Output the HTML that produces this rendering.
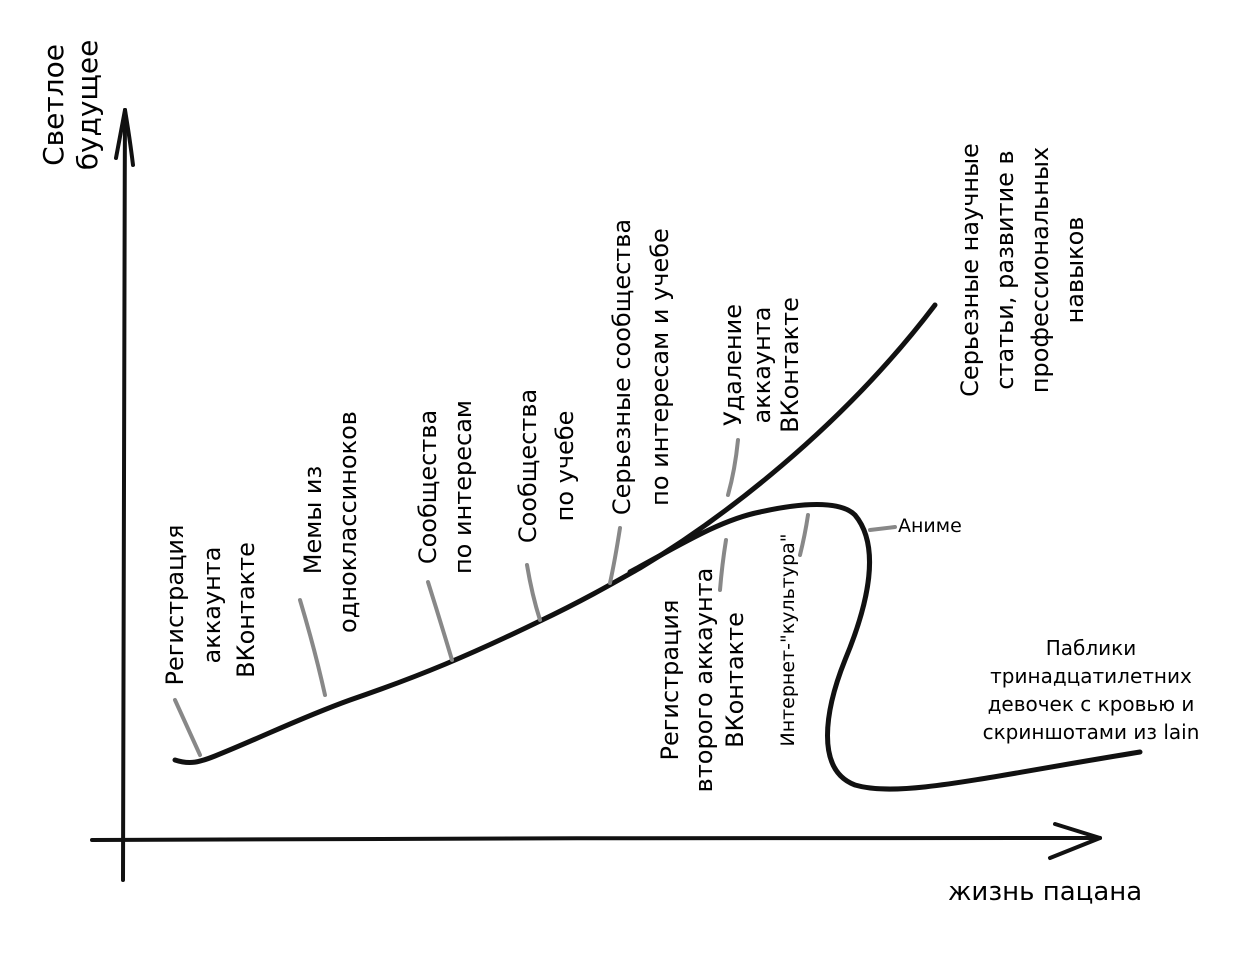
<!DOCTYPE html>
<html><head><meta charset="utf-8"><style>
html,body{margin:0;padding:0;background:#fff;}
svg{display:block}
text{font-family:"DejaVu Sans","Liberation Sans",sans-serif;fill:#000}
</style></head><body>
<svg width="1244" height="966" viewBox="0 0 1244 966" xmlns="http://www.w3.org/2000/svg">
<g fill="none" stroke="#111" stroke-width="4" stroke-linecap="round" stroke-linejoin="round">
  <path d="M123 880 C122 700 124 400 125 110"/>
  <path d="M125 110 L116 158"/>
  <path d="M125 110 Q130 140 133 165"/>
  <path d="M92 840 C400 838 800 838 1100 838"/>
  <path d="M1100 838 L1055 824"/>
  <path d="M1100 838 L1050 858"/>
</g>
<g fill="none" stroke="#111" stroke-width="5" stroke-linecap="round">
  <path d="M175 760 C190 765 200 762 215 756 C260 738 300 718 350 700 C420 676 470 655 540 621 C580 602 610 585 640 568 C720 520 840 430 935 305"/>
  <path d="M630 572 C680 545 720 520 760 512 C800 503 840 500 855 515 C880 545 870 600 845 660 C825 710 815 770 855 785 C900 798 980 778 1140 752"/>
</g>
<g fill="none" stroke="#888" stroke-width="4" stroke-linecap="round">
  <path d="M175 700 L200 755"/>
  <path d="M300 600 Q315 650 325 695"/>
  <path d="M428 582 Q440 620 452 660"/>
  <path d="M527 565 Q532 595 540 620"/>
  <path d="M620 528 Q615 560 610 583"/>
  <path d="M738 440 Q735 470 728 495"/>
  <path d="M726 540 Q722 565 720 590"/>
  <path d="M808 515 Q805 535 800 555"/>
  <path d="M870 530 L895 527"/>
</g>
<g font-size="24" text-anchor="middle">
  <text transform="translate(85,105) rotate(-90)" font-size="28">
    <tspan x="0" y="-22">Светлое</tspan><tspan x="0" y="12">будущее</tspan></text>
  <text transform="translate(0,0)"><tspan x="0" y="0"></tspan></text>
  <g transform="translate(175,605) rotate(-90)"><text x="0" y="8">Регистрация</text></g>
  <g transform="translate(212,605) rotate(-90)"><text x="0" y="8">аккаунта</text></g>
  <g transform="translate(246,610) rotate(-90)"><text x="0" y="8">ВКонтакте</text></g>
  <g transform="translate(313,520) rotate(-90)"><text x="0" y="8">Мемы из</text></g>
  <g transform="translate(348,522) rotate(-90)"><text x="0" y="8">одноклассиноков</text></g>
  <g transform="translate(428,487) rotate(-90)"><text x="0" y="8">Сообщества</text></g>
  <g transform="translate(463,487) rotate(-90)"><text x="0" y="8">по интересам</text></g>
  <g transform="translate(528,466) rotate(-90)"><text x="0" y="8">Сообщества</text></g>
  <g transform="translate(565,466) rotate(-90)"><text x="0" y="8">по учебе</text></g>
  <g transform="translate(622,367) rotate(-90)"><text x="0" y="8">Серьезные сообщества</text></g>
  <g transform="translate(660,367) rotate(-90)"><text x="0" y="8">по интересам и учебе</text></g>
  <g transform="translate(733,365) rotate(-90)"><text x="0" y="8">Удаление</text></g>
  <g transform="translate(762,365) rotate(-90)"><text x="0" y="8">аккаунта</text></g>
  <g transform="translate(790,365) rotate(-90)"><text x="0" y="8">ВКонтакте</text></g>
  <g transform="translate(970,270) rotate(-90)"><text x="0" y="8">Серьезные научные</text></g>
  <g transform="translate(1005,270) rotate(-90)"><text x="0" y="8">статьи, развитие в</text></g>
  <g transform="translate(1040,270) rotate(-90)"><text x="0" y="8">профессиональных</text></g>
  <g transform="translate(1075,270) rotate(-90)"><text x="0" y="8">навыков</text></g>
  <g transform="translate(670,680) rotate(-90)"><text x="0" y="8">Регистрация</text></g>
  <g transform="translate(704,680) rotate(-90)"><text x="0" y="8">второго аккаунта</text></g>
  <g transform="translate(735,680) rotate(-90)"><text x="0" y="8">ВКонтакте</text></g>
  <g transform="translate(787,640) rotate(-90)" font-size="19"><text x="0" y="7">Интернет-"культура"</text></g>
</g>
<text x="898" y="532" font-size="19">Аниме</text>
<g font-size="20" text-anchor="middle">
  <text x="1091" y="655">Паблики</text>
  <text x="1091" y="683">тринадцатилетних</text>
  <text x="1091" y="711">девочек с кровью и</text>
  <text x="1091" y="739">скриншотами из lain</text>
</g>
<text x="948" y="900" font-size="26">жизнь пацана</text>
</svg>
</body></html>
